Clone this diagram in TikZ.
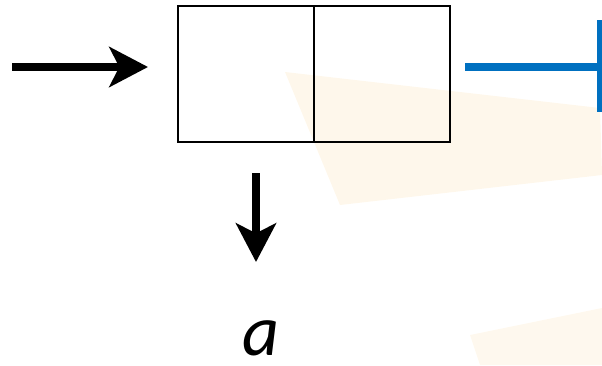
\documentclass[tikz,border=0pt]{standalone}
\usepackage{fontspec}
\setmainfont{Carlito}
\usetikzlibrary{arrows.meta,positioning}
\definecolor{linkblue}{RGB}{0,112,192}
\definecolor{wmark}{RGB}{253,236,205}
\tikzset{cell/.style={draw, line width=2.2pt, minimum size=102pt, inner sep=0pt, outer sep=0pt},
  bigarrow/.style={line width=5.6pt, -{Stealth[length=29pt,width=30pt,inset=7.5pt]}}}
\begin{document}
\begin{tikzpicture}[x=0.75pt, y=-0.75pt, line cap=butt, line join=miter]
\useasboundingbox (0,0) rectangle (602,365);
% faint watermark
\fill[wmark, opacity=0.4] (285,72)--(600,108)--(602,175)--(340,205)--cycle;
\fill[wmark, opacity=0.35] (470,335)--(602,308)--(602,365)--(480,365)--cycle;

\node[cell] (cellL) at (246,74) {};
\node[cell, right=0pt of cellL] (cellR) {};
\coordinate (inL) at (12,67);
\coordinate (inR) at (148,67);
\draw[bigarrow] (inL) -- (inR);
\coordinate (dnTop) at (256,173);
\node[font=\itshape\fontsize{54}{54}\selectfont, inner sep=0pt] (val) at (261,338) {a};
\draw[bigarrow] (dnTop) -- (256,262);
\coordinate (nilL) at (465,67);
\coordinate (nilR) at (600,67);
\draw[linkblue, line width=5.4pt] (nilL) -- (nilR);
\draw[linkblue, line width=4.5pt] (600,20) -- (600,112);
\end{tikzpicture}
\end{document}
